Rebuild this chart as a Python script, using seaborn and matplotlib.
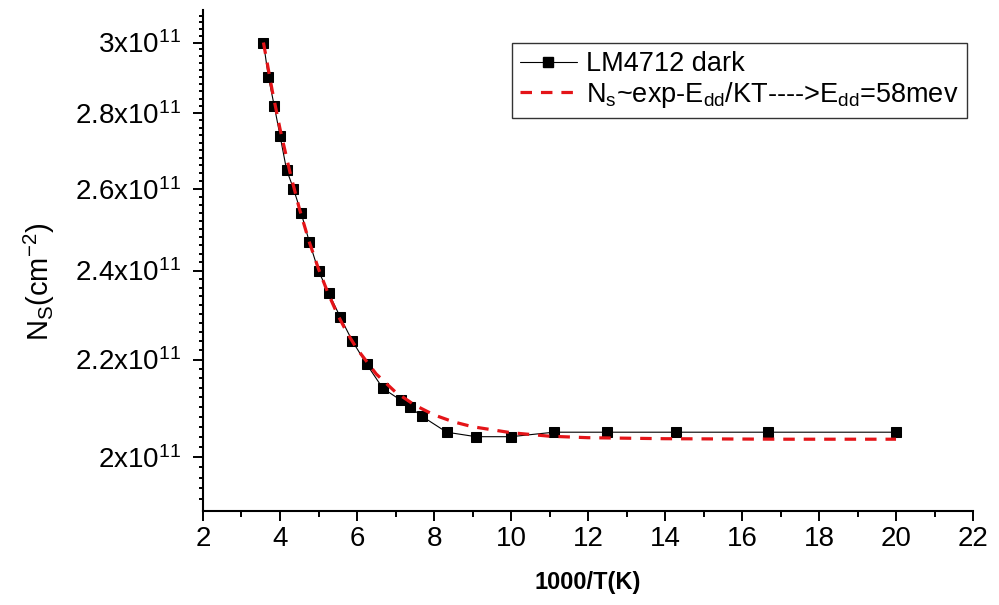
import numpy as np
import pandas as pd
import matplotlib
matplotlib.use("Agg")
import matplotlib.pyplot as plt
import seaborn as sns
from matplotlib.ticker import FixedLocator, FixedFormatter, NullFormatter
from matplotlib.lines import Line2D

# dados (1000/T e Ns em unidades de 1e11 cm^-2)
inv_T = [3.57, 3.70, 3.85, 4.00, 4.17, 4.35, 4.55, 4.76, 5.00, 5.26, 5.56, 5.88,
         6.25, 6.67, 7.14, 7.37, 7.69, 8.33, 9.09, 10.0, 11.11, 12.5, 14.29, 16.67, 20.0]
ns_dark = [3.00, 2.90, 2.82, 2.739, 2.649, 2.600, 2.539, 2.469, 2.399, 2.349, 2.294, 2.240,
           2.190, 2.139, 2.114, 2.100, 2.081, 2.049, 2.040, 2.040, 2.049, 2.049, 2.049, 2.049, 2.049]

# curva de ajuste (tracejada vermelha), lida ponto a ponto
inv_T_fit = [3.57, 3.8, 4.0, 4.25, 4.5, 4.75, 5.0, 5.25, 5.5, 5.75, 6.0, 6.5, 7.0,
             7.5, 8.0, 8.5, 9.0, 10.0, 11.0, 12.0, 14.0, 17.0, 20.0]
ns_fit = [3.00, 2.861, 2.757, 2.646, 2.551, 2.471, 2.404, 2.347, 2.298, 2.257, 2.223,
          2.169, 2.131, 2.104, 2.084, 2.070, 2.060, 2.048, 2.041, 2.038, 2.036, 2.035, 2.035]

y_ticks = [2.0, 2.2, 2.4, 2.6, 2.8, 3.0]
y_tick_labels = [r"2x10$^{\mathregular{11}}$", r"2.2x10$^{\mathregular{11}}$",
                 r"2.4x10$^{\mathregular{11}}$", r"2.6x10$^{\mathregular{11}}$",
                 r"2.8x10$^{\mathregular{11}}$", r"3x10$^{\mathregular{11}}$"]
x_ticks = [2, 4, 6, 8, 10, 12, 14, 16, 18, 20, 22]

label_dark = "LM4712 dark"
label_fit = (r"N$_\mathregular{s}$~exp-E$_\mathregular{dd}$/KT---->"
             r"E$_\mathregular{dd}$=58mev")

scale = 1e11
df_dark = pd.DataFrame({"x": inv_T, "y": np.array(ns_dark) * scale})
df_fit = pd.DataFrame({"x": inv_T_fit, "y": np.array(ns_fit) * scale})

sns.set_theme(style="white")
plt.rcParams["font.family"] = ["Liberation Sans", "DejaVu Sans"]
plt.rcParams["mathtext.fontset"] = "custom"
plt.rcParams["mathtext.rm"] = "Liberation Sans"
plt.rcParams["mathtext.it"] = "Liberation Sans:italic"
plt.rcParams["mathtext.bf"] = "Liberation Sans:bold"
for k in ["text.color", "axes.labelcolor", "xtick.color", "ytick.color"]:
    plt.rcParams[k] = "black"

fig = plt.figure(figsize=(9.99, 6.05), dpi=100)
ax = fig.add_axes([0.2032, 0.1554, 0.7708, 0.8281])

sns.lineplot(data=df_dark, x="x", y="y", color="black", linewidth=0.8,
             marker="s", markersize=7.3, markeredgecolor="black",
             markerfacecolor="black", ax=ax, zorder=2)
sns.lineplot(data=df_fit, x="x", y="y", color="#e41418", linewidth=2.3,
             ax=ax, zorder=3, dashes=False)
ax.lines[-1].set_dashes((3.6, 2.8))

ax.set_yscale("log")
ax.set_xlim(2, 22)
ax.set_ylim(1.897e11, 3.097e11)

ax.xaxis.set_major_locator(FixedLocator(x_ticks))
ax.xaxis.set_minor_locator(FixedLocator(np.arange(3, 22, 2)))
ax.yaxis.set_major_locator(FixedLocator([v * scale for v in y_ticks]))
ax.yaxis.set_major_formatter(FixedFormatter(y_tick_labels))
ax.yaxis.set_minor_locator(FixedLocator(np.arange(1.92, 3.09, 0.02) * scale))
ax.yaxis.set_minor_formatter(NullFormatter())

for s in ["top", "right"]:
    ax.spines[s].set_visible(False)
for s in ["left", "bottom"]:
    ax.spines[s].set_linewidth(1.5)
    ax.spines[s].set_color("black")

ax.tick_params(axis="both", which="both", direction="out", color="black", width=1.4)
ax.tick_params(axis="x", which="major", length=7.5, labelsize=20, pad=3.5)
ax.tick_params(axis="x", which="minor", length=4.5)
ax.tick_params(axis="y", which="major", length=7.5, labelsize=20, pad=8)
ax.tick_params(axis="y", which="minor", length=3)
ax.tick_params(left=True, bottom=True, which="both")

ax.set_xlabel("1000/T(K)", fontsize=17, fontweight="bold")
ax.xaxis.set_label_coords(0.5, -0.12)
ax.set_ylabel(r"N$_\mathregular{S}$(cm$^{\mathregular{-2}}$)", fontsize=21)
ax.yaxis.set_label_coords(-0.19, 0.457)

handles = [
    Line2D([], [], color="black", linewidth=0.8, marker="s", markersize=7.3),
    Line2D([], [], color="#e41418", linewidth=2.3, dashes=(3.6, 2.8)),
]
leg = ax.legend(handles, [label_dark, label_fit], loc="upper right",
                bbox_to_anchor=(0.992, 0.934), fontsize=19.5, frameon=True,
                fancybox=False, edgecolor="#333333", framealpha=1,
                handlelength=2.1, handletextpad=0.35, labelspacing=0.1,
                borderpad=0.3, borderaxespad=0)
leg.get_frame().set_linewidth(1.0)

plt.savefig("out.png", dpi=100)
